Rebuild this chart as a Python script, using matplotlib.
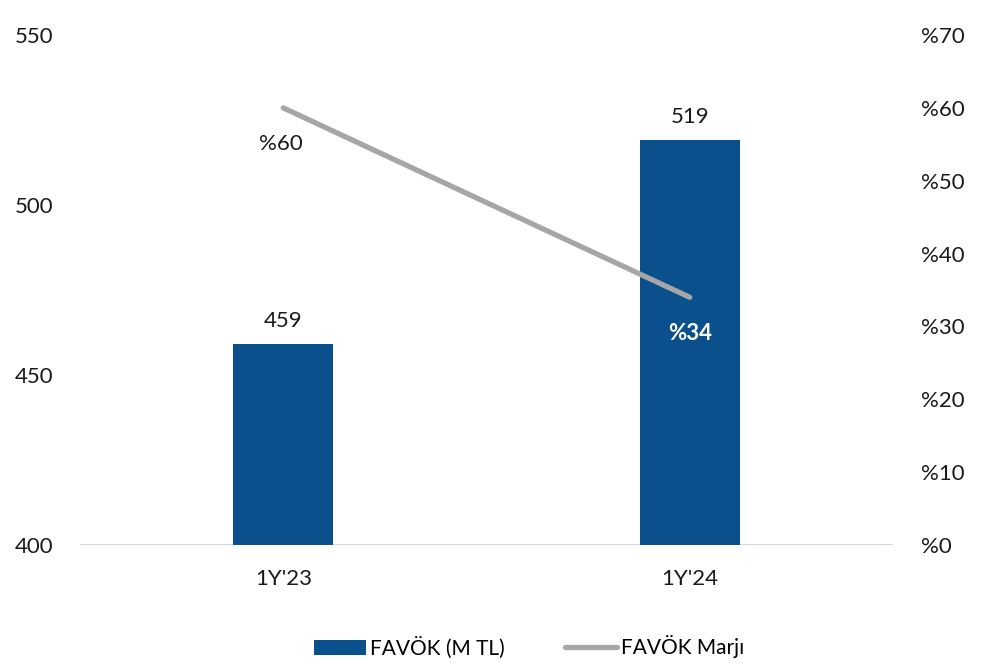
import matplotlib
matplotlib.use("Agg")
import matplotlib.pyplot as plt

plt.rcParams['font.family'] = ['Lato', 'DejaVu Sans']

periods = ["1Y'23", "1Y'24"]
favok = [459, 519]
margin = [60, 34]

bar_color = '#0a508c'
line_color = '#a6a6a6'

fig = plt.figure(figsize=(9.83, 6.63), dpi=100)
ax = fig.add_axes([80 / 983, 1 - 545 / 663, 813 / 983, 510 / 663])
ax2 = ax.twinx()

x = list(range(len(periods)))
bars = ax.bar(x, favok, width=0.245, color=bar_color, label='FAVÖK (M TL)', zorder=2)
ax.set_ylim(400, 550)
ax.set_xlim(-0.5, 1.5)
ax.set_yticks([400, 450, 500, 550])
ax.set_xticks(x)
ax.set_xticklabels(periods)

line, = ax2.plot(x, margin, color=line_color, lw=3.8, solid_capstyle='round',
                 label='FAVÖK Marjı', zorder=3)
ax2.set_ylim(0, 70)
ax2.set_yticks(range(0, 71, 10))
ax2.set_yticklabels(['%' + str(v) for v in range(0, 71, 10)])

for a in (ax, ax2):
    for s in ['top', 'left', 'right', 'bottom']:
        a.spines[s].set_visible(False)
    a.tick_params(length=0, labelsize=16, colors='#1a1a1a')
ax.tick_params(axis='y', pad=19)
ax2.tick_params(axis='y', pad=20)
ax.tick_params(axis='x', pad=17)
ax.axhline(400, color='#c9cfe2', lw=1.2, zorder=1)

for xi, v in zip(x, favok):
    ax.annotate(str(v), (xi, v), xytext=(0, 10), textcoords='offset points',
                ha='center', va='bottom', fontsize=16, color='#1a1a1a')

ax2.annotate('%' + str(margin[0]), (x[0], margin[0]), xytext=(-2, -26),
             textcoords='offset points', ha='center', va='center',
             fontsize=16, color='#1a1a1a')
ax2.annotate('%' + str(margin[1]), (x[1], margin[1]), xytext=(0, -26),
             textcoords='offset points', ha='center', va='center',
             fontsize=16, color='white', fontweight='bold')

fig.legend(handles=[bars, line], labels=['FAVÖK (M TL)', 'FAVÖK Marjı'],
           loc='center', bbox_to_anchor=(529 / 983, 1 - 647 / 663), ncol=2,
           frameon=False, fontsize=15, handlelength=2.5, handleheight=0.7,
           columnspacing=2.9, handletextpad=0.2)

fig.savefig('out.png', dpi=100)
